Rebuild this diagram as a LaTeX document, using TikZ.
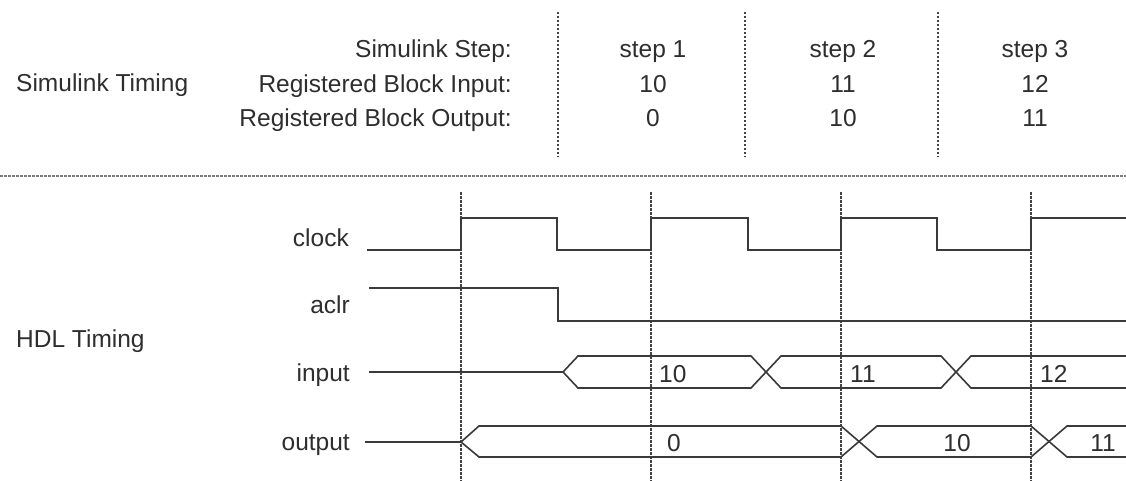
\documentclass[tikz,border=0pt]{standalone}
\usepackage{fontspec}
\setmainfont{Liberation Sans}
\definecolor{ink}{HTML}{2E2E2E}
\definecolor{wave}{HTML}{3A3A3A}
\definecolor{gridc}{HTML}{444444}
\definecolor{sepc}{HTML}{7A7A7A}
\begin{document}
\begin{tikzpicture}[x=1pt,y=-1pt,
  lbl/.style={font=\fontsize{24.5}{29}\selectfont, text=ink, inner sep=0pt},
  wavel/.style={draw=wave, line width=1.6pt, line join=miter},
  gridv/.style={draw=gridc, line width=1.2pt, dash pattern=on 2.5pt off 1.5pt},
  sepl/.style={draw=sepc, line width=1.4pt, dash pattern=on 2.5pt off 1.5pt}]
\fill[white] (0,0) rectangle (1126,481);
\useasboundingbox (0,0) rectangle (1126,481);

% ---- Simulink timing section ----
\node[lbl, anchor=base west] (simt) at (16,92) {Simulink Timing};
\node[lbl, anchor=base east] (sstep) at (512,58) {Simulink Step:};
\node[lbl, anchor=base east] (rbin) at (512,93) {Registered Block Input:};
\node[lbl, anchor=base east] (rbout) at (512,127) {Registered Block Output:};

\node[lbl, anchor=base] (s1) at (653,58) {step 1};
\node[lbl, anchor=base] (s2) at (843,58) {step 2};
\node[lbl, anchor=base] (s3) at (1035,58) {step 3};
\node[lbl, anchor=base] (i1) at (653,93) {10};
\node[lbl, anchor=base] (i2) at (843,93) {11};
\node[lbl, anchor=base] (i3) at (1035,93) {12};
\node[lbl, anchor=base] (o1) at (653,127) {0};
\node[lbl, anchor=base] (o2) at (843,127) {10};
\node[lbl, anchor=base] (o3) at (1035,127) {11};

\foreach \x in {558,745,938} \draw[gridv] (\x,12) -- (\x,157);
\draw[sepl] (0,176) -- (1126,176);

% ---- HDL timing section ----
\node[lbl, anchor=base west] (hdlt) at (16,347) {HDL Timing};
\node[lbl, anchor=base east] (lclk) at (349,246) {clock};
\node[lbl, anchor=base east] (laclr) at (350,313) {aclr};
\node[lbl, anchor=base east] (lin) at (350,381) {input};
\node[lbl, anchor=base east] (lout) at (350,450) {output};

\foreach \x in {461,651,841,1031} \draw[gridv] (\x,192) -- (\x,481);

% clock
\draw[wavel] (367,250) -- (461,250) -- (461,218) -- (557,218) -- (557,250)
  -- (651,250) -- (651,218) -- (748,218) -- (748,250) -- (841,250) -- (841,218)
  -- (937,218) -- (937,250) -- (1031,250) -- (1031,218) -- (1126,218);
% aclr
\draw[wavel] (369,288) -- (558,288) -- (558,321) -- (1126,321);
% input
\draw[wavel] (369,372) -- (563,372);
\draw[wavel] (563,372) -- (578,356) -- (751,356) -- (781,388) -- (941,388) -- (971,356) -- (1126,356);
\draw[wavel] (563,372) -- (578,388) -- (751,388) -- (781,356) -- (941,356) -- (971,388) -- (1126,388);
% output
\draw[wavel] (365,442) -- (461,442);
\draw[wavel] (461,442) -- (479,426) -- (841,426) -- (877,457) -- (1031,457) -- (1067,426) -- (1126,426);
\draw[wavel] (461,442) -- (479,457) -- (841,457) -- (877,426) -- (1031,426) -- (1067,457) -- (1126,457);

\node[lbl, anchor=base west] (vin1) at (659,382) {10};
\node[lbl, anchor=base west] (vin2) at (850,382) {11};
\node[lbl, anchor=base west] (vin3) at (1040,382) {12};
\node[lbl, anchor=base] (vout1) at (674,451) {0};
\node[lbl, anchor=base] (vout2) at (957,451) {10};
\node[lbl, anchor=base] (vout3) at (1103,451) {11};
\end{tikzpicture}
\end{document}
